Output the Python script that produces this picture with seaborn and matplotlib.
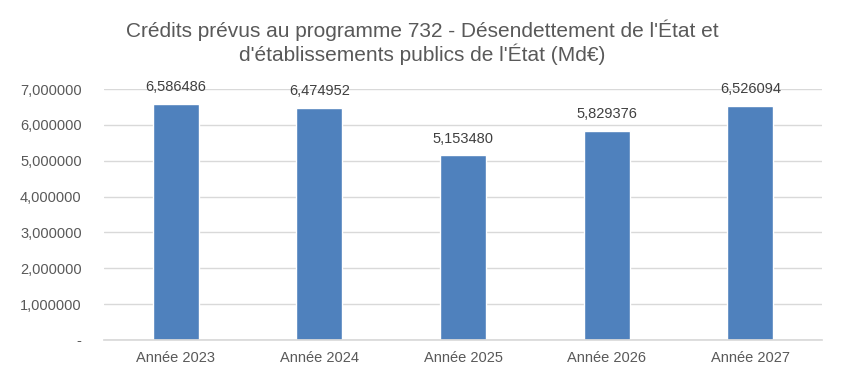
import matplotlib
matplotlib.use("Agg")
import matplotlib.pyplot as plt
import seaborn as sns
import pandas as pd

categories = ["Année 2023", "Année 2024", "Année 2025", "Année 2026", "Année 2027"]
values = [6.586486, 6.474952, 5.153480, 5.829376, 6.526094]
yticks = [0, 1, 2, 3, 4, 5, 6, 7]

sns.set_theme(style="white")
plt.rcParams['font.family'] = ['Liberation Sans', 'DejaVu Sans']

df = pd.DataFrame({"cat": categories, "val": values})

fig = plt.figure(figsize=(8.45, 3.84), dpi=100)
ax = fig.add_axes([0.123, 0.115, 0.850, 0.653])
sns.barplot(data=df, x="cat", y="val", color="#4f81bd", width=0.32, saturation=1, ax=ax)

ax.set_ylim(0, 7)
ax.set_yticks(yticks)
ax.set_yticklabels(["-" if t == 0 else f"{t:.6f}".replace(".", ",") for t in yticks],
                   fontsize=10.5, color="#595959")
ax.tick_params(axis="x", labelsize=10.5, colors="#595959", length=0, pad=8)
ax.tick_params(axis="y", length=0, pad=16)
ax.set_xlabel("")
ax.set_ylabel("")
ax.yaxis.grid(True, color="#d9d9d9", linewidth=1)
ax.set_axisbelow(True)
for s in ["top", "right", "left"]:
    ax.spines[s].set_visible(False)
ax.spines["bottom"].set_color("#d9d9d9")

for i, v in enumerate(values):
    ax.annotate(f"{v:.6f}".replace(".", ","), (i, v), xytext=(0, 7), textcoords="offset points",
                ha="center", va="bottom", fontsize=10.5, color="#404040")

fig.text(0.5, 0.95, "Crédits prévus au programme 732 - Désendettement de l'État et\nd'établissements publics de l'État (Md€)",
         ha="center", va="top", fontsize=15, color="#595959", linespacing=1.15)

fig.savefig("out.png", dpi=100)
